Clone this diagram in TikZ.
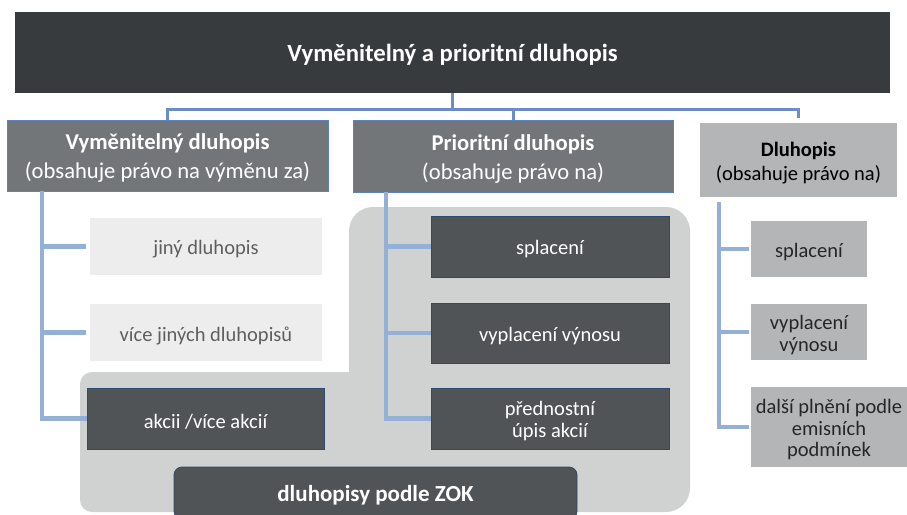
\documentclass[tikz,border=0pt]{standalone}
\usepackage{fontspec}
\setmainfont{Carlito}
\definecolor{topc}{HTML}{383B3E}
\definecolor{midc}{HTML}{737679}
\definecolor{midb}{HTML}{5B82BD}
\definecolor{dluc}{HTML}{B3B5B7}
\definecolor{lightc}{HTML}{EDEDED}
\definecolor{lightt}{HTML}{5F5F5F}
\definecolor{darkc}{HTML}{515456}
\definecolor{darkb}{HTML}{2E4A6E}
\definecolor{regc}{HTML}{D0D1D1}
\definecolor{conc}{HTML}{94B0D6}
\definecolor{topl}{HTML}{6A8DC5}
\begin{document}
\begin{tikzpicture}[x=1pt,y=-1pt,
  box/.style={rectangle, inner sep=0pt},
  lab/.style={inner sep=0pt, align=center, yshift=-3pt},
  topbox/.style={box, fill=topc},
  toptext/.style={lab, yshift=1pt, text=white, font=\fontsize{24.7}{29}\selectfont\bfseries},
  midbox/.style={box, fill=midc, draw=midb, line width=0.8pt},
  midtext/.style={lab, text=white, font=\fontsize{22.6}{29}\selectfont},
  dlubox/.style={box, fill=dluc},
  dlutext/.style={lab, text=black, font=\fontsize{20.5}{23.5}\selectfont},
  lightbox/.style={box, fill=lightc},
  lighttext/.style={lab, text=lightt, font=\fontsize{20.5}{22}\selectfont},
  darkbox/.style={box, fill=darkc, draw=darkb, line width=0.8pt},
  darktext/.style={lab, text=white, font=\fontsize{20.5}{22}\selectfont},
  rbox/.style={box, fill=dluc},
  rtext/.style={lab, text=black!85, font=\fontsize{20.5}{21.5}\selectfont},
  conn/.style={draw=conc, line width=4.5pt},
  tconn/.style={draw=topl, line width=3pt}]
\useasboundingbox (0,0) rectangle (907,514);
% grey region
\fill[regc] (349,290) [rounded corners=24pt] -- (349,207) -- (690,207) -- (690,512) [rounded corners=12pt] -- (80,512) -- (80,372) -- (200,372) [sharp corners] -- (349,372) -- cycle;
% nodes
\node[topbox, minimum width=875pt, minimum height=81pt, label={[toptext]center:{Vyměnitelný a prioritní dluhopis}}] (top) at (452.5,52.5) {};
\node[midbox, minimum width=321pt, minimum height=71pt, label={[midtext]center:{\textbf{Vyměnitelný dluhopis}\\(obsahuje právo na výměnu za)}}] (vym) at (167.5,155.5) {};
\node[midbox, minimum width=320pt, minimum height=72pt, label={[midtext]center:{\textbf{Prioritní dluhopis}\\(obsahuje právo na)}}] (pri) at (513,156) {};
\node[dlubox, minimum width=197pt, minimum height=74pt, label={[dlutext]center:{\textbf{Dluhopis}\\(obsahuje právo na)}}] (dlu) at (798.5,160) {};
\node[lightbox, minimum width=232pt, minimum height=57pt, label={[lighttext]center:{jiný dluhopis}}] (jiny) at (206,246.5) {};
\node[lightbox, minimum width=232pt, minimum height=57pt, label={[lighttext]center:{více jiných dluhopisů}}] (vice) at (206,332.5) {};
\node[darkbox, minimum width=237pt, minimum height=61pt, label={[darktext]center:{akcii /více akcií}}] (akcii) at (205.5,418.5) {};
\node[darkbox, minimum width=238pt, minimum height=61pt, label={[darktext]center:{splacení}}] (ps) at (550,246.5) {};
\node[darkbox, minimum width=238pt, minimum height=60pt, label={[darktext]center:{vyplacení výnosu}}] (pv) at (550,333) {};
\node[darkbox, minimum width=238pt, minimum height=61pt, label={[darktext]center:{přednostní\\úpis akcií}}] (pp) at (550,418.5) {};
\node[rbox, minimum width=116pt, minimum height=56pt, label={[rtext]center:{splacení}}] (ds) at (809,249) {};
\node[rbox, minimum width=116pt, minimum height=56pt, label={[rtext]center:{vyplacení\\výnosu}}] (dv) at (809,332) {};
\node[rbox, minimum width=156pt, minimum height=80pt, label={[rtext]center:{další plnění podle\\emisních\\podmínek}}] (dd) at (829,427) {};
\node[darkbox, rounded corners=8pt, minimum width=403pt, minimum height=52pt, label={[darktext, yshift=1pt, font=\fontsize{23}{26}\selectfont\bfseries]center:{dluhopisy podle ZOK}}] (zok) at (375.5,493) {};
% top bus
\coordinate (bus) at (454,109);
\draw[tconn] (top.south) -- (top.south |- bus);
\draw[tconn] (vym.north) |- (bus -| dlu.north) -- ([yshift=5pt]dlu.north);
\draw[tconn] (pri.north) -- (pri.north |- bus);
% left
\coordinate (vl) at ([xshift=-125.5pt]vym.south);
\draw[conn] (vl) |- (akcii.west);
\draw[conn] (vl |- jiny.west) -- ([xshift=-4pt]jiny.west);
\draw[conn] (vl |- vice.west) -- ([xshift=-4pt]vice.west);
% middle
\coordinate (pl) at ([xshift=-127pt]pri.south);
\draw[conn] (pl) |- (pp.west);
\draw[conn] (pl |- ps.west) -- (ps.west);
\draw[conn] (pl |- pv.west) -- (pv.west);
% right
\coordinate (rl) at ([xshift=-79.5pt,yshift=-5pt]dlu.south);
\draw[conn] (rl) |- ([xshift=-2pt]dd.west);
\draw[conn] (rl |- ds.west) -- ([xshift=-2pt]ds.west);
\draw[conn] (rl |- dv.west) -- ([xshift=-2pt]dv.west);
\end{tikzpicture}
\end{document}
